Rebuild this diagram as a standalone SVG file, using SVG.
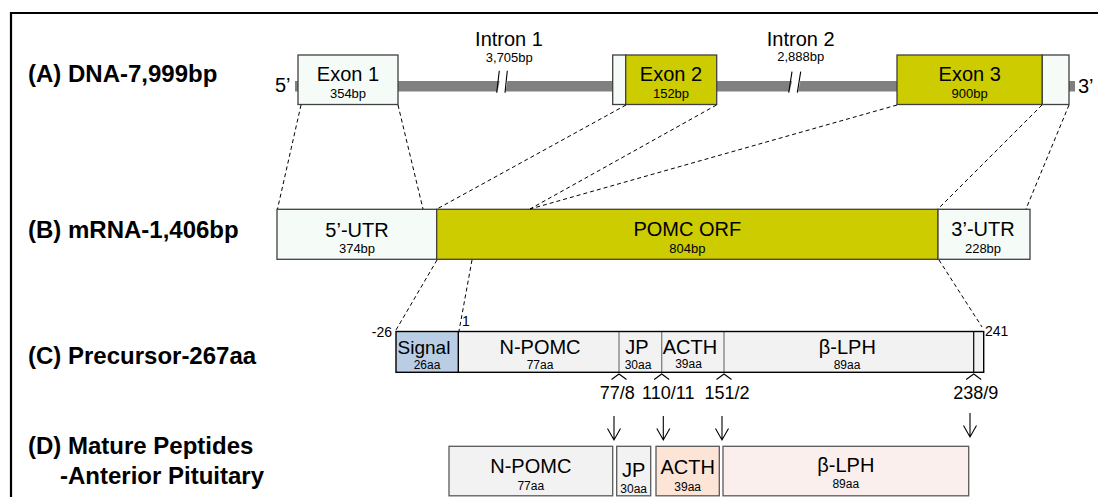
<svg xmlns="http://www.w3.org/2000/svg" width="1098" height="497" viewBox="0 0 1098 497">
<style>
text{font-family:"Liberation Sans",Arial,sans-serif;fill:#000}
.lbl{font-size:24px;font-weight:bold}
.big{font-size:20px;text-anchor:middle}
.sm{font-size:13px;text-anchor:middle}
.aa{font-size:12px;text-anchor:middle}
.num{font-size:14px}
.cut{font-size:18px;text-anchor:middle}
.mint{fill:#F5FCF8;stroke:#404040;stroke-width:1.3}
.yel{fill:#CCCC00;stroke:#404040;stroke-width:1.3}
.pre{fill:#F2F2F2;stroke:none}
.dash{fill:none;stroke:#000;stroke-width:1;stroke-dasharray:4 3}
.arr{fill:none;stroke:#000;stroke-width:1.1}
.mat{stroke:#595959;stroke-width:1.3}
</style>
<rect x="0" y="0" width="1098" height="497" fill="#fff"/>
<path d="M11,497 V13 H1098" fill="none" stroke="#000" stroke-width="2.2"/>

<g id="labels">
<text class="lbl" x="28" y="82">(A) DNA-7,999bp</text>
<text class="lbl" x="28" y="238">(B) mRNA-1,406bp</text>
<text class="lbl" x="28" y="364">(C) Precursor-267aa</text>
<text class="lbl" x="28" y="454">(D) Mature Peptides</text>
<text class="lbl" x="60" y="484">-Anterior Pituitary</text>
</g>

<g id="dna">
<rect x="295" y="81" width="780" height="10.5" fill="#808080"/>
<text x="275" y="92" style="font-size:20px">5’</text>
<text x="1078" y="93" style="font-size:20px">3’</text>
<g id="intron1">
<polygon points="497.5,92 499.8,80 507.6,80 505.5,92" fill="#fff"/>
<path d="M496.7,92.7 L499.3,70.7 M505,92.7 L507.3,70.7" class="arr"/>
<text class="big" x="509" y="46">Intron 1</text>
<text class="sm" x="509.3" y="61.5">3,705bp</text>
</g>
<g id="intron2">
<polygon points="789.5,92 792.3,80 800.5,80 798,92" fill="#fff"/>
<path d="M788.7,92.7 L792,71.7 M797.3,92.7 L800.7,71.7" class="arr"/>
<text class="big" x="800.7" y="45.5">Intron 2</text>
<text class="sm" x="800.7" y="60.5">2,888bp</text>
</g>
<g id="exon1">
<rect class="mint" x="298" y="55" width="100" height="49.5"/>
<text class="big" x="348" y="81">Exon 1</text>
<text class="sm" x="348" y="97.5">354bp</text>
</g>
<g id="exon2">
<rect class="mint" x="612.7" y="55" width="13" height="49.5"/>
<rect class="yel" x="625.7" y="55" width="91" height="49.5"/>
<text class="big" x="671" y="81">Exon 2</text>
<text class="sm" x="671" y="97.5">152bp</text>
</g>
<g id="exon3">
<rect class="yel" x="897" y="55" width="145.3" height="49.5"/>
<rect class="mint" x="1042.3" y="55" width="26.7" height="49.5"/>
<text class="big" x="969.7" y="81">Exon 3</text>
<text class="sm" x="969.7" y="97.5">900bp</text>
</g>
</g>

<g id="mrna">
<g id="utr5">
<rect class="mint" x="277" y="209.3" width="159.7" height="50"/>
<text class="big" x="357" y="236.5">5’-UTR</text>
<text class="sm" x="357" y="253">374bp</text>
</g>
<g id="orf">
<rect class="yel" x="436.7" y="209.3" width="501.3" height="50"/>
<text class="big" x="687.3" y="235.5">POMC ORF</text>
<text class="sm" x="687.3" y="252.5">804bp</text>
</g>
<g id="utr3">
<rect class="mint" x="938" y="209.3" width="92" height="50"/>
<text class="big" x="983" y="236">3’-UTR</text>
<text class="sm" x="983" y="253">228bp</text>
</g>
</g>

<g id="precursor">
<rect x="396" y="331.5" width="62.3" height="40.8" fill="#B9CDE5"/>
<rect class="pre" x="458.3" y="331.5" width="525.4" height="40.8"/>
<path d="M619,331.5 V372.3 M661.7,331.5 V372.3 M724,331.5 V372.3" stroke="#7F7F7F" stroke-width="1.3"/>
<path d="M973.7,331.5 V372.3" stroke="#000" stroke-width="1.2"/>
<path d="M458.3,331.5 V372.3" stroke="#000" stroke-width="1.4"/>
<rect x="396" y="331.5" width="587.7" height="40.8" fill="none" stroke="#000" stroke-width="1.4"/>
<text class="big" x="424" y="354" style="font-size:19px">Signal</text>
<text class="aa" x="427" y="369">26aa</text>
<text class="big" x="540" y="354">N-POMC</text>
<text class="aa" x="540" y="369">77aa</text>
<text class="big" x="637" y="354">JP</text>
<text class="aa" x="638" y="369">30aa</text>
<text class="big" x="690" y="354">ACTH</text>
<text class="aa" x="688.5" y="368">39aa</text>
<text class="big" x="847.3" y="353.5">β-LPH</text>
<text class="aa" x="847" y="369">89aa</text>
<text class="num" x="392" y="337" text-anchor="end">-26</text>
<text class="num" x="462" y="325.5">1</text>
<text class="num" x="985" y="336">241</text>
<path d="M611.5,379.5 L619,374 L626.5,379.5 M654.2,379.5 L661.7,374 L669.2,379.5 M716.5,379.5 L724,374 L731.5,379.5 M966.2,379.5 L973.7,374 L981.2,379.5" class="arr"/>
<text class="cut" x="617.2" y="399.3">77/8</text>
<text class="cut" x="668.3" y="399.3">110/11</text>
<text class="cut" x="727" y="399.3">151/2</text>
<text class="cut" x="975.7" y="399.3">238/9</text>
</g>

<g id="mature">
<g id="m-npomc">
<rect class="mat" x="449" y="446.3" width="163.7" height="49.5" fill="#F2F2F2"/>
<text class="big" x="530.8" y="473.3">N-POMC</text>
<text class="aa" x="530.8" y="490">77aa</text>
</g>
<g id="m-jp">
<rect class="mat" x="616.7" y="446.3" width="34" height="49.5" fill="#F2F2F2"/>
<text class="big" x="633.7" y="476.7">JP</text>
<text class="aa" x="633.7" y="493">30aa</text>
</g>
<g id="m-acth">
<rect class="mat" x="656" y="446.3" width="63.3" height="49.5" fill="#FCE4D6"/>
<text class="big" x="687.7" y="474">ACTH</text>
<text class="aa" x="687.7" y="491">39aa</text>
</g>
<g id="m-blph">
<rect class="mat" x="723" y="446.3" width="245.7" height="49.5" fill="#FAEFEC"/>
<text class="big" x="845.8" y="471.7">β-LPH</text>
<text class="aa" x="845.8" y="488.3">89aa</text>
</g>
</g>

<g id="connectors">
<path class="dash" d="M301,105 L277.5,209"/>
<path class="dash" d="M398,105 L423,209"/>
<path class="dash" d="M626,105 L437,209"/>
<path class="dash" d="M716.5,105 L530,209"/>
<path class="dash" d="M897,105 L530,209"/>
<path class="dash" d="M1042,105 L938,209"/>
<path class="dash" d="M1069,105 L1026,209"/>
<path class="dash" d="M437,260 L396,330"/>
<path class="dash" d="M472,260 L459,331"/>
<path class="dash" d="M939,260 L982,327"/>
<path class="arr" d="M614,416 V440 M607.5,428.5 L614,440 L620.5,428.5"/>
<path class="arr" d="M663.3,416 V440 M656.8,428.5 L663.3,440 L669.8,428.5"/>
<path class="arr" d="M722,416 V440 M715.5,428.5 L722,440 L728.5,428.5"/>
<path class="arr" d="M970,413 V437 M963.5,425.5 L970,437 L976.5,425.5"/>
</g>
</svg>
